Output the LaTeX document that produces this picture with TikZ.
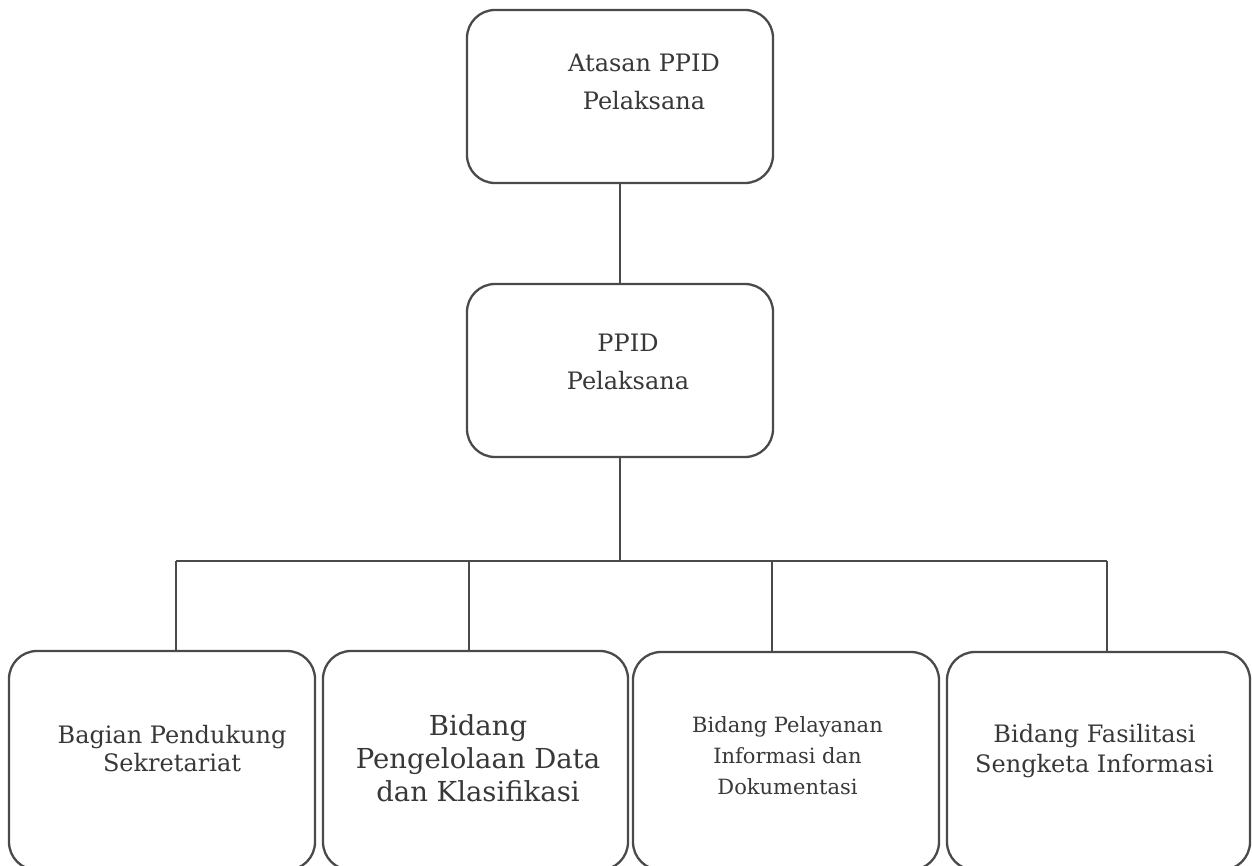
\documentclass[tikz,border=0pt]{standalone}
\usepackage{fontspec}
\setmainfont{DejaVu Serif}
\definecolor{linegray}{HTML}{4A4A4A}
\definecolor{textgray}{HTML}{383838}
\begin{document}
\begin{tikzpicture}[x=1pt,y=-1pt,
  box/.style={draw=linegray, line width=2.3pt, rounded corners=28pt, inner sep=0pt},
  lbl/.style={text=textgray, align=center, inner sep=0pt},
  conn/.style={draw=linegray, line width=2pt}]
\useasboundingbox (0,0) rectangle (1252,866);
\clip (0,0) rectangle (1252,866);
\fill[white] (0,0) rectangle (1252,866);
% boxes
\node[box, minimum width=306pt, minimum height=173pt] (top) at (620,96.5) {};
\node[box, minimum width=306pt, minimum height=173pt] (mid) at (620,370.5) {};
\node[box, minimum width=306pt, minimum height=219pt] (b1) at (162,760.5) {};
\node[box, minimum width=305pt, minimum height=219pt] (b2) at (475.5,760.5) {};
\node[box, minimum width=306pt, minimum height=218pt] (b3) at (786,761) {};
\node[box, minimum width=303pt, minimum height=218pt] (b4) at (1098.5,761) {};
% texts
\node[lbl, font=\fontsize{24}{38}\selectfont] (ttop) at (644,82) {Atasan PPID\\Pelaksana};
\node[lbl, font=\fontsize{24}{38}\selectfont] (tmid) at (628,362) {PPID\\Pelaksana};
\node[lbl, font=\fontsize{24}{28}\selectfont] (tb1) at (172,749) {Bagian Pendukung\\Sekretariat};
\node[lbl, font=\fontsize{27.5}{33}\selectfont] (tb2) at (478,758) {Bidang\\Pengelolaan Data\\dan Klasifikasi};
\node[lbl, font=\fontsize{21}{31}\selectfont] (tb3) at (787.5,755.5) {Bidang Pelayanan\\Informasi dan\\Dokumentasi};
\node[lbl, font=\fontsize{24}{30}\selectfont] (tb4) at (1094.5,751.5) {Bidang Fasilitasi\\Sengketa Informasi};
% connectors
\coordinate (j1) at (176,561);
\coordinate (j2) at (469,561);
\coordinate (j3) at (772,561);
\coordinate (j4) at (1107,561);
\draw[conn] (top.south) -- (mid.north);
\draw[conn] (mid.south) -- (mid.south |- j1);
\draw[conn] (j1) -- (j4);
\draw[conn] (j1) -- (j1 |- b1.north);
\draw[conn] (j2) -- (j2 |- b2.north);
\draw[conn] (j3) -- (j3 |- b3.north);
\draw[conn] (j4) -- (j4 |- b4.north);
\end{tikzpicture}
\end{document}
